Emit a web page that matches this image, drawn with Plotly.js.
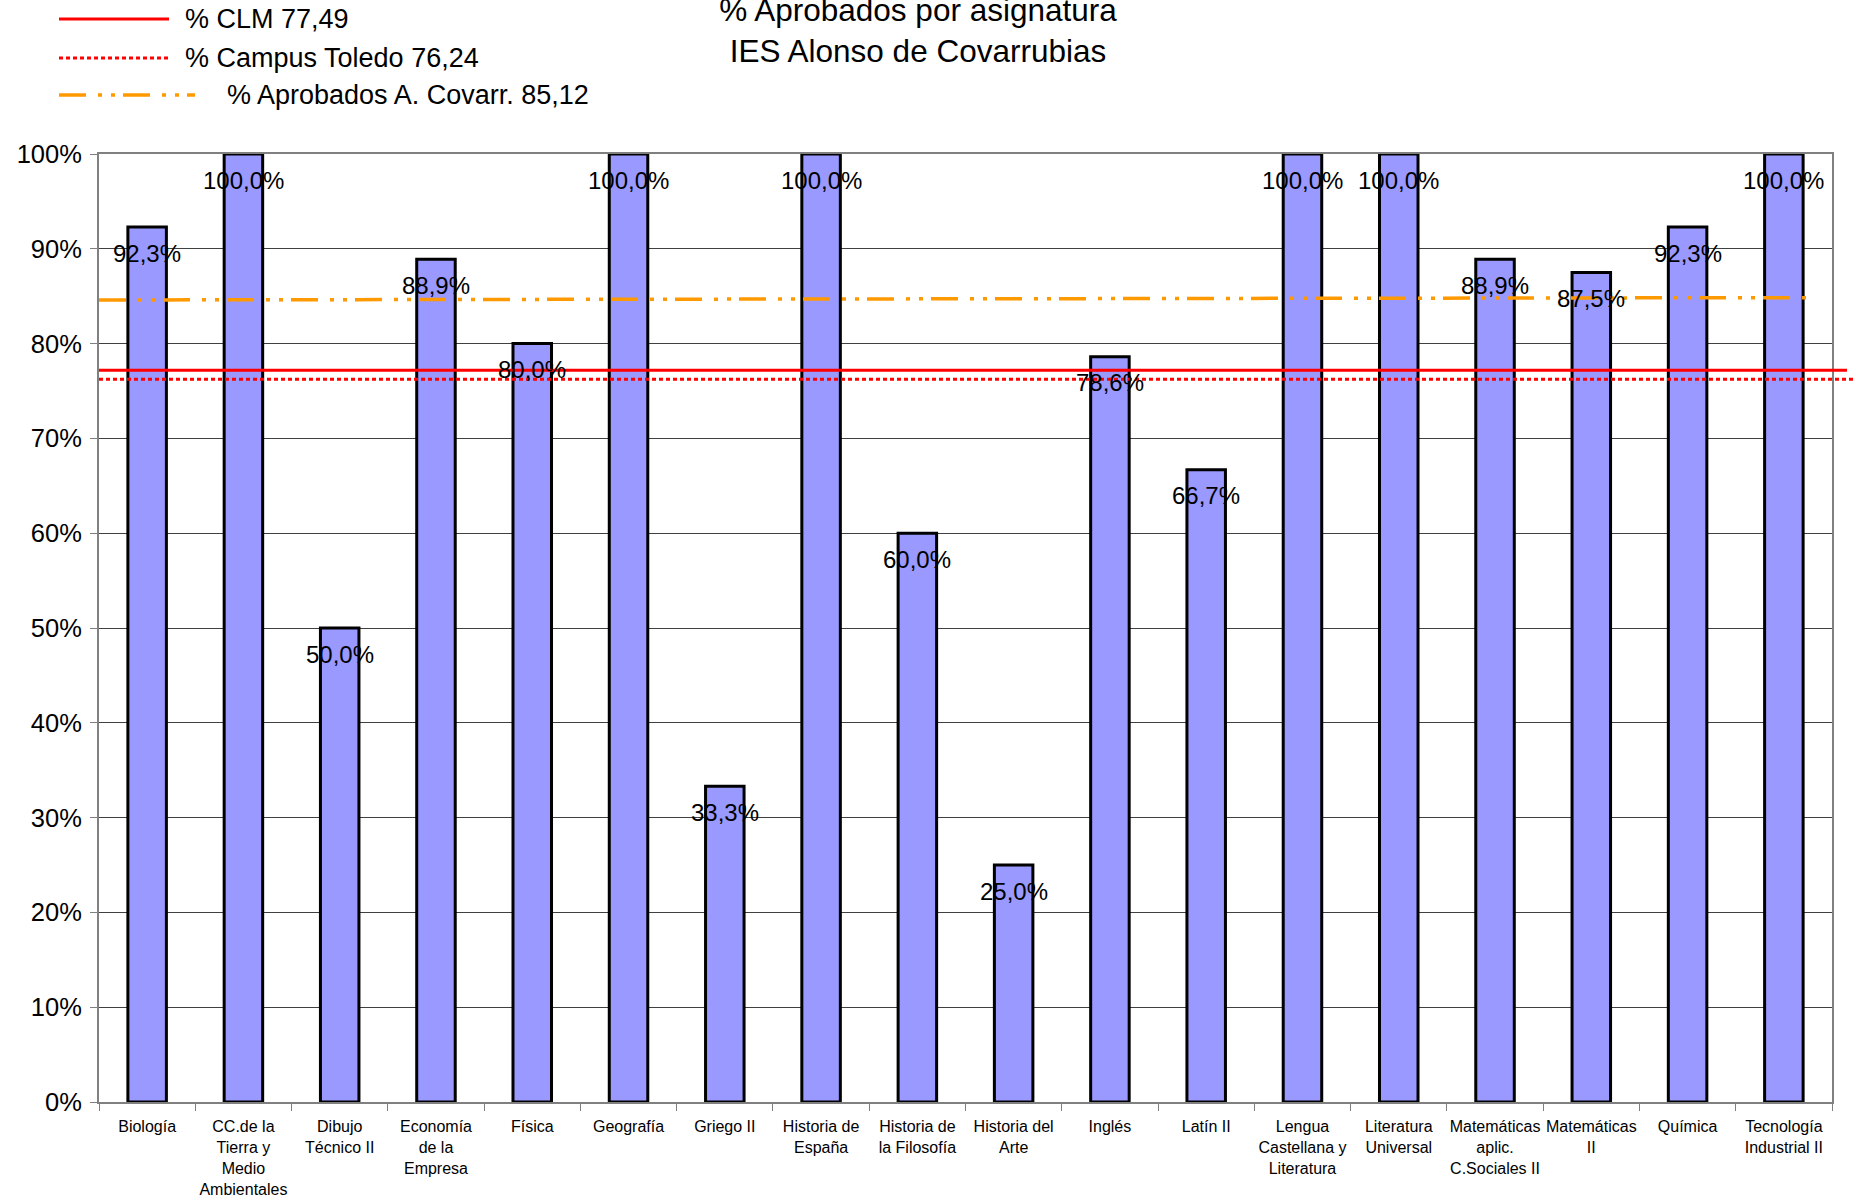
<!DOCTYPE html>
<html>
<head>
<meta charset="utf-8">
<script src="https://cdn.plot.ly/plotly-3.0.1.min.js"></script>
<style>html,body{margin:0;padding:0;background:#fff;}#chart{width:1856px;height:1202px;}</style>
</head>
<body>
<div id="chart"></div>
<script>
const categories = [
  "Biología",
  "CC.de la<br>Tierra y<br>Medio<br>Ambientales",
  "Dibujo<br>Técnico II",
  "Economía<br>de la<br>Empresa",
  "Física",
  "Geografía",
  "Griego II",
  "Historia de<br>España",
  "Historia de<br>la Filosofía",
  "Historia del<br>Arte",
  "Inglés",
  "Latín II",
  "Lengua<br>Castellana y<br>Literatura",
  "Literatura<br>Universal",
  "Matemáticas<br>aplic.<br>C.Sociales II",
  "Matemáticas<br>II",
  "Química",
  "Tecnología<br>Industrial II"
];
const aprobados = [92.3, 100, 50, 88.9, 80, 100, 33.3, 100, 60, 25, 78.6, 66.7, 100, 100, 88.9, 87.5, 92.3, 100];
const valueLabels = ["92,3%", "100,0%", "50,0%", "88,9%", "80,0%", "100,0%", "33,3%", "100,0%", "60,0%", "25,0%", "78,6%", "66,7%", "100,0%", "100,0%", "88,9%", "87,5%", "92,3%", "100,0%"];
const refNames = ["% CLM 77,49", "% Campus Toledo 76,24", "% Aprobados A. Covarr. 85,12"];
const refStart = [77.2, 76.24, 84.6];
const refEnd = [77.2, 76.24, 84.85];
const yTickVals = [0, 10, 20, 30, 40, 50, 60, 70, 80, 90, 100];
const yTickText = ["0%", "10%", "20%", "30%", "40%", "50%", "60%", "70%", "80%", "90%", "100%"];

const W = 1856, H = 1202;
const M = {l: 99, r: 24, t: 154, b: 100};
const PW = W - M.l - M.r, PH = H - M.t - M.b;
const fx = px => (px - M.l) / PW;
const fy = py => (H - M.b - py) / PH;
const FONT = "Liberation Sans, Arial, sans-serif";

const refStyles = [
  {color: "#FF0000", width: 3, dash: "solid", x1: fx(1847), legX1: 169},
  {color: "#FF0000", width: 3, dash: "4px,3px", x1: fx(1853), legX1: 169},
  {color: "#FF9900", width: 3.5, dash: "27px,12px,4px,9px,4px,8px", x1: fx(1815), legX1: 195}
];

const shapes = [];
const annotations = [];
refNames.forEach((name, i) => {
  const s = refStyles[i];
  shapes.push({type: "line", xref: "paper", yref: "y", x0: 0, x1: s.x1, y0: refStart[i], y1: refEnd[i],
    line: {color: s.color, width: s.width, dash: s.dash}, layer: "above"});
});
// custom legend
const legY = [19, 58, 95];
const legTextX = [183, 183, 225];
refNames.forEach((name, i) => {
  const s = refStyles[i];
  shapes.push({type: "line", xref: "paper", yref: "paper", x0: fx(59), x1: fx(s.legX1), y0: fy(legY[i]), y1: fy(legY[i]),
    line: {color: s.color, width: s.width, dash: s.dash}});
  annotations.push({xref: "paper", yref: "paper", x: fx(legTextX[i]), y: fy(legY[i]), xanchor: "left", yanchor: "middle",
    text: name, showarrow: false, font: {family: FONT, size: 27, color: "#000"}});
});
categories.forEach((c, i) => {
  annotations.push({xref: "x", yref: "y", x: c, y: aprobados[i], yshift: -26, xanchor: "center", yanchor: "middle",
    text: valueLabels[i], showarrow: false, font: {family: FONT, size: 24, color: "#000"}});
});

const trace = {
  type: "bar",
  x: categories,
  y: aprobados,
  marker: {color: "#9999FF", line: {color: "#000000", width: 3}},
  hoverinfo: "x+y",
  showlegend: false
};

const layout = {
  width: W, height: H,
  margin: M,
  paper_bgcolor: "#FFFFFF",
  plot_bgcolor: "#FFFFFF",
  bargap: 0.6,
  showlegend: false,
  font: {family: FONT, color: "#000"},
  title: {
    text: "% Aprobados por asignatura<br>IES Alonso de Covarrubias",
    x: 918 / W, xanchor: "center", xref: "container",
    y: 1 - 21 / H, yanchor: "middle", yref: "container",
    font: {family: FONT, size: 31.5, color: "#000"}
  },
  xaxis: {
    type: "category",
    showline: true, linecolor: "#808080", linewidth: 2, mirror: true,
    ticks: "outside", tickson: "boundaries", ticklen: 7, tickcolor: "#808080", tickwidth: 1,
    tickfont: {family: FONT, size: 16, color: "#000"},
    tickangle: 0,
    showgrid: false, zeroline: false, fixedrange: true,
    ticklabelstandoff: 9
  },
  yaxis: {
    range: [0, 100],
    tickvals: yTickVals, ticktext: yTickText,
    showline: true, linecolor: "#808080", linewidth: 2, mirror: true,
    ticks: "outside", ticklen: 7, tickcolor: "#808080", tickwidth: 1,
    tickfont: {family: FONT, size: 25.5, color: "#000"},
    showgrid: true, gridcolor: "#404040", gridwidth: 1,
    zeroline: false, fixedrange: true,
    ticklabelstandoff: 3
  },
  shapes: shapes,
  annotations: annotations
};

Plotly.newPlot("chart", [trace], layout, {displayModeBar: false, staticPlot: true});
</script>
</body>
</html>
